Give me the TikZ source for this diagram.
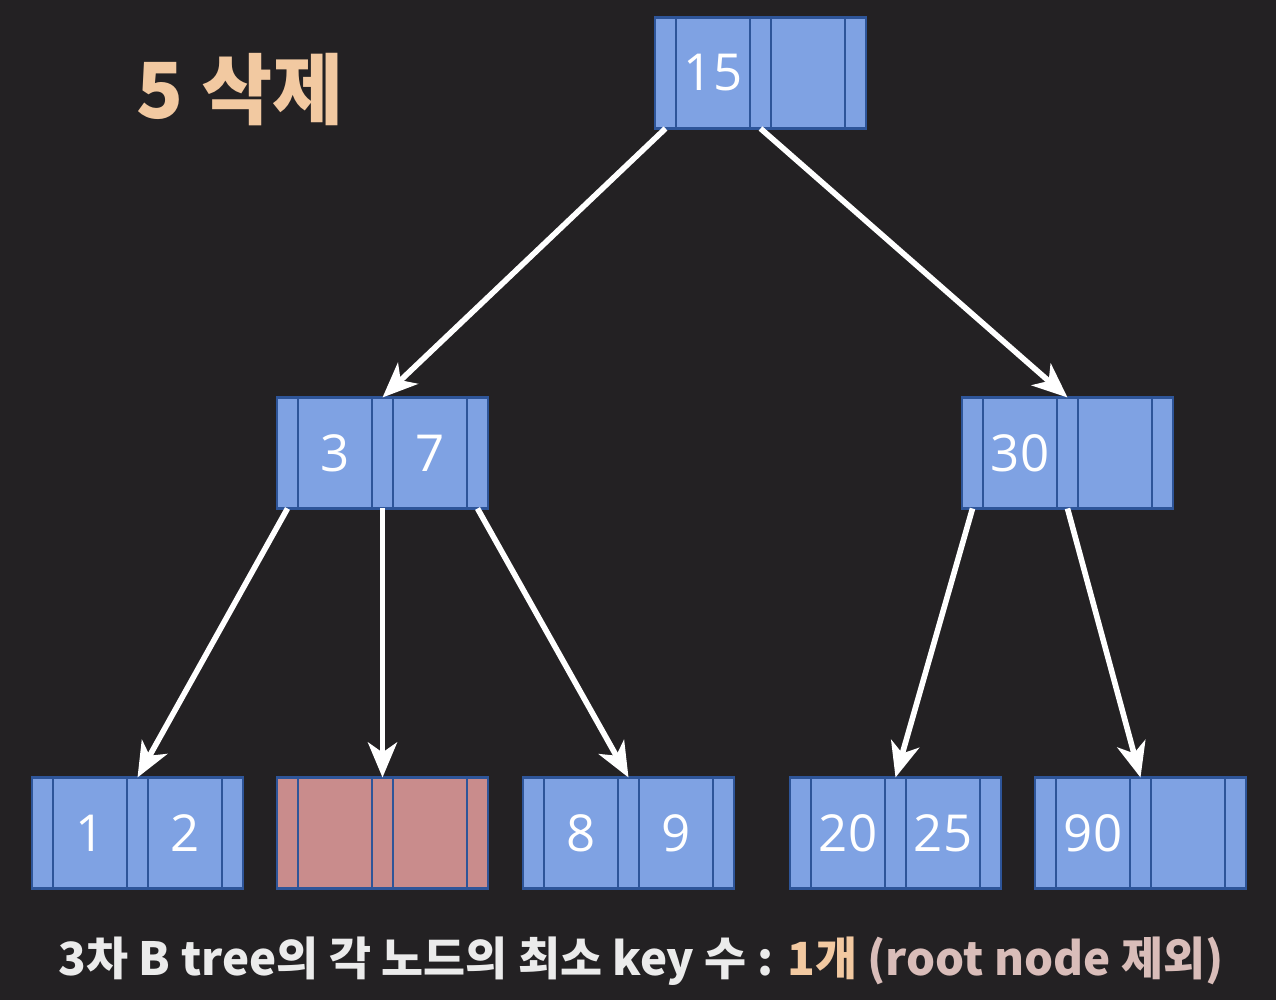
\documentclass[tikz,border=0pt]{standalone}
\usepackage{fontspec}
\setmainfont{Open Sans}
\newfontfamily\kr{Noto Sans CJK KR}
\usepackage{tikz}
\usetikzlibrary{arrows.meta, positioning}
\definecolor{bgdark}{HTML}{232123}
\definecolor{keyblue}{HTML}{7FA2E3}
\definecolor{edgeblue}{HTML}{2E5599}
\definecolor{delred}{HTML}{C98C8C}
\definecolor{peach}{HTML}{F2C9A1}
\definecolor{softpink}{HTML}{D9BDB9}
\tikzset{
    ptr/.style={
        rectangle,
        draw=edgeblue,
        line width=1.5pt,
        outer sep=0pt,
        minimum width=0.42cm,
        minimum height=2.22cm,
        fill=keyblue
    },
    key/.style={
        rectangle,
        draw=edgeblue,
        line width=1.5pt,
        outer sep=0pt,
        minimum width=1.48cm,
        minimum height=2.22cm,
        fill=keyblue,
        text=white,
        font=\fontsize{29}{30}\selectfont
    },
    deleted/.style={
        fill=delred
    },
    link/.style={
        draw=white,
        line width=3.2pt,
        -{Stealth[length=0.7cm, width=0.58cm, inset=0.2cm]}
    }
}

\begin{document}
\begin{tikzpicture}
\fill[bgdark] (0,0) rectangle (25.52,20);
\useasboundingbox (0,0) rectangle (25.52,20);

% Title
\node[text=peach, font=\kr\bfseries\fontsize{44}{46}\selectfont] (title) at (4.8,18.2) {5 삭제};

% Root node
\node[ptr] (r0) at (13.31,18.54) {};
\node[key, right=0pt of r0] (r1) {15};
\node[ptr, right=0pt of r1] (r2) {};
\node[key, right=0pt of r2] (r3) {};
\node[ptr, right=0pt of r3] (r4) {};

% Second level
\node[ptr] (a0) at (5.75,10.94) {};
\node[key, right=0pt of a0] (a1) {3};
\node[ptr, right=0pt of a1] (a2) {};
\node[key, right=0pt of a2] (a3) {7};
\node[ptr, right=0pt of a3] (a4) {};

\node[ptr] (b0) at (19.45,10.94) {};
\node[key, right=0pt of b0] (b1) {30};
\node[ptr, right=0pt of b1] (b2) {};
\node[key, right=0pt of b2] (b3) {};
\node[ptr, right=0pt of b3] (b4) {};

% Leaves
\node[ptr] (c0) at (0.85,3.34) {};
\node[key, right=0pt of c0] (c1) {1};
\node[ptr, right=0pt of c1] (c2) {};
\node[key, right=0pt of c2] (c3) {2};
\node[ptr, right=0pt of c3] (c4) {};

\node[ptr, deleted] (d0) at (5.75,3.34) {};
\node[key, deleted, right=0pt of d0] (d1) {};
\node[ptr, deleted, right=0pt of d1] (d2) {};
\node[key, deleted, right=0pt of d2] (d3) {};
\node[ptr, deleted, right=0pt of d3] (d4) {};

\node[ptr] (e0) at (10.67,3.34) {};
\node[key, right=0pt of e0] (e1) {8};
\node[ptr, right=0pt of e1] (e2) {};
\node[key, right=0pt of e2] (e3) {9};
\node[ptr, right=0pt of e3] (e4) {};

\node[ptr] (f0) at (16.01,3.34) {};
\node[key, right=0pt of f0] (f1) {20};
\node[ptr, right=0pt of f1] (f2) {};
\node[key, right=0pt of f2] (f3) {25};
\node[ptr, right=0pt of f3] (f4) {};

\node[ptr] (g0) at (20.91,3.34) {};
\node[key, right=0pt of g0] (g1) {90};
\node[ptr, right=0pt of g1] (g2) {};
\node[key, right=0pt of g2] (g3) {};
\node[ptr, right=0pt of g3] (g4) {};

% Pointers
\draw[link] (r0.south) -- (a2.north);
\draw[link] (r2.south) -- (b2.north);
\draw[link] (a0.south) -- (c2.north);
\draw[link] (a2.south) -- (d2.north);
\draw[link] (a4.south) -- (e2.north);
\draw[link] (b0.south) -- (f2.north);
\draw[link] (b2.south) -- (g2.north);

% Caption
\node[text=white!92!black, font=\kr\bfseries\fontsize{26}{28}\selectfont] (note) at (12.82,0.78)
    {3차 B tree의 각 노드의 최소 key 수 : \textcolor{peach}{1개} \textcolor{softpink}{(root node 제외)}};

\end{tikzpicture}
\end{document}
